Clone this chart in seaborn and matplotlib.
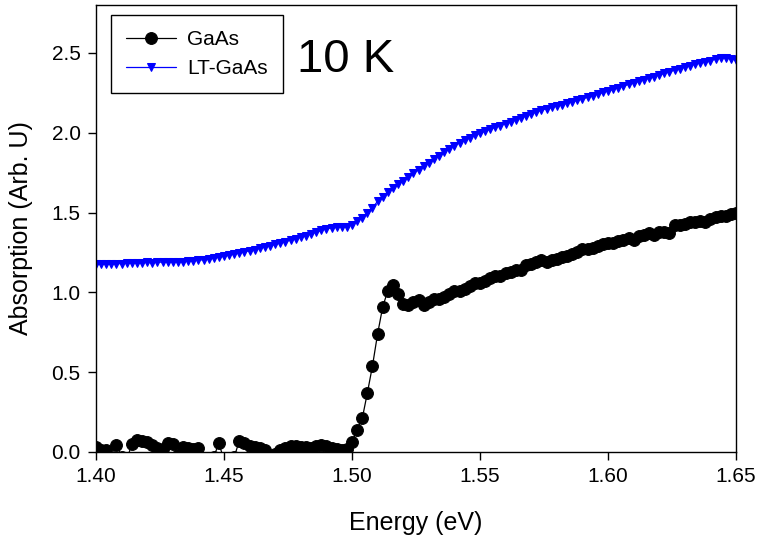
import numpy as np
import pandas as pd
import matplotlib
matplotlib.use("Agg")
import matplotlib.pyplot as plt
import seaborn as sns

# Photon energy grid (eV), 0.002 eV steps from 1.400 to 1.650
energy = np.round(np.arange(1.400, 1.6501, 0.002), 3)

gaas = [
    0.030, 0.015, 0.010, -0.040, 0.045, -0.030, -0.050, 0.050, 0.075, 0.068,
    0.060, 0.045, 0.028, 0.018, 0.055, 0.052, -0.020, 0.030, 0.025, 0.020,
    0.026, -0.040, -0.060, -0.030, 0.055, -0.050, -0.080, -0.030, 0.070, 0.054,
    0.040, 0.032, 0.022, 0.012, -0.030, -0.010, 0.012, 0.025, 0.040, 0.040,
    0.034, 0.030, 0.022, 0.035, 0.042, 0.040, 0.027, 0.018, 0.015, 0.020,
    0.060, 0.140, 0.210, 0.370, 0.540, 0.740, 0.910, 1.010, 1.045, 0.990,
    0.930,
    0.920, 0.940, 0.950, 0.920, 0.940, 0.960, 0.960, 0.970, 0.990, 1.010,
    1.010, 1.020, 1.040, 1.060, 1.060, 1.070, 1.090, 1.100, 1.100, 1.120,
    1.130, 1.140, 1.140, 1.170, 1.180, 1.190, 1.200, 1.190, 1.200, 1.210,
    1.220, 1.230, 1.240, 1.250, 1.270, 1.270, 1.280, 1.290, 1.300, 1.310,
    1.310, 1.320, 1.330, 1.340, 1.330, 1.350, 1.360, 1.370, 1.360, 1.380,
    1.380, 1.370, 1.420, 1.420, 1.430, 1.440, 1.440, 1.450, 1.440, 1.460,
    1.470, 1.480, 1.480, 1.490, 1.500,
]

lt_gaas = [
    1.175, 1.175, 1.178, 1.178, 1.180, 1.180, 1.182, 1.184, 1.185, 1.186,
    1.187, 1.186, 1.188, 1.190, 1.190, 1.191, 1.192, 1.193, 1.195, 1.198,
    1.201, 1.205, 1.210, 1.215, 1.220, 1.226, 1.233, 1.240, 1.247, 1.254,
    1.261, 1.268, 1.276, 1.284, 1.292, 1.300, 1.309, 1.318, 1.327, 1.336,
    1.346, 1.356, 1.366, 1.377, 1.388, 1.398, 1.404, 1.407, 1.409, 1.412,
    1.425, 1.445, 1.468, 1.495, 1.530, 1.570, 1.600, 1.630, 1.655, 1.678,
    1.700, 1.722, 1.745, 1.768, 1.790, 1.812, 1.835, 1.857, 1.878, 1.898,
    1.918, 1.936, 1.953, 1.968, 1.983, 1.997, 2.010, 2.022, 2.034, 2.045,
    2.057, 2.069, 2.081, 2.093, 2.105, 2.118, 2.130, 2.142, 2.150, 2.158,
    2.167, 2.176, 2.185, 2.194, 2.203, 2.212, 2.222, 2.232, 2.242, 2.252,
    2.262, 2.272, 2.282, 2.292, 2.302, 2.312, 2.322, 2.332, 2.342, 2.352,
    2.362, 2.372, 2.382, 2.392, 2.402, 2.411, 2.420, 2.429, 2.437, 2.445,
    2.452, 2.460, 2.467, 2.470, 2.462, 2.458,
]

series_names = ["GaAs", "LT-GaAs"]
x_ticks = [1.40, 1.45, 1.50, 1.55, 1.60, 1.65]
y_ticks = [0.0, 0.5, 1.0, 1.5, 2.0, 2.5]
annotation = "10 K"

sns.set_style("ticks")
plt.rcParams["font.family"] = ["Liberation Sans", "DejaVu Sans"]
plt.rcParams["text.color"] = "black"
plt.rcParams["axes.labelcolor"] = "black"
plt.rcParams["xtick.color"] = "black"
plt.rcParams["ytick.color"] = "black"

fig = plt.figure(figsize=(7.57, 5.37), dpi=100)
ax = fig.add_axes([0.1268, 0.1583, 0.8455, 0.8324])

df_a = pd.DataFrame({"E": energy, "A": gaas})
df_b = pd.DataFrame({"E": energy, "A": lt_gaas})

sns.lineplot(data=df_a, x="E", y="A", ax=ax, color="black", lw=0.9,
             marker="o", markersize=8.5, markeredgecolor="black",
             markerfacecolor="black", label=series_names[0], sort=True)
sns.lineplot(data=df_b, x="E", y="A", ax=ax, color="#0000ff", lw=0.9,
             marker="v", markersize=5.8, markeredgecolor="#0000ff",
             markerfacecolor="#0000ff", label=series_names[1], sort=True)

ax.set_xlim(1.40, 1.65)
ax.set_ylim(0.0, 2.8)
ax.set_xticks(x_ticks)
ax.set_xticklabels([f"{v:.2f}" for v in x_ticks])
ax.set_yticks(y_ticks)
ax.set_yticklabels([f"{v:.1f}" for v in y_ticks])
ax.tick_params(axis="both", direction="out", length=6, width=1,
               labelsize=15, colors="black", pad=5)
for s in ax.spines.values():
    s.set_visible(True)
    s.set_color("black")
    s.set_linewidth(1.0)

ax.set_xlabel("Energy (eV)", fontsize=18, labelpad=18, color="black")
ax.set_ylabel("Absorption (Arb. U)", fontsize=18, labelpad=13, color="black")

leg = ax.legend(loc="upper left", bbox_to_anchor=(0.023, 0.978),
                borderaxespad=0, fontsize=15, frameon=True, fancybox=False,
                edgecolor="black", framealpha=1, handlelength=2.4,
                handletextpad=0.5, labelspacing=0.45, borderpad=0.75)
leg.get_frame().set_linewidth(1.0)
for t in leg.get_texts():
    t.set_color("black")

ax.text(0.314, 0.850, annotation, transform=ax.transAxes, fontsize=34,
        ha="left", va="baseline", color="black")

fig.savefig("out.png", dpi=100)
